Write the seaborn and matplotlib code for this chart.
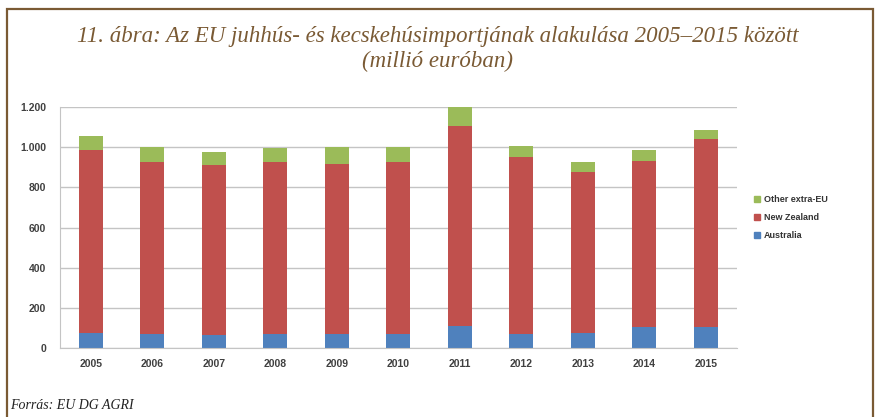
import numpy as np
import pandas as pd
import seaborn as sns
import matplotlib.pyplot as plt
from matplotlib.patches import Patch, Rectangle

# data (million EUR)
years = ['2005', '2006', '2007', '2008', '2009', '2010', '2011', '2012', '2013', '2014', '2015']
australia = [75, 72, 63, 72, 72, 72, 108, 72, 75, 103, 103]
new_zealand = [910, 856, 850, 856, 843, 853, 997, 881, 800, 830, 939]
other = [71, 72, 62, 69, 85, 77, 95, 55, 50, 54, 46]

c_aus = '#4f81bd'
c_nz = '#c0504d'
c_oth = '#9bbb59'
brown = '#7a5a34'

df = pd.DataFrame({'year': years, 'aus': australia, 'nz': new_zealand, 'oth': other})
df['nz_top'] = df['aus'] + df['nz']
df['total'] = df['nz_top'] + df['oth']

sns.set_style('white')
plt.rcParams['font.family'] = ['Liberation Sans', 'DejaVu Sans']

fig = plt.figure(figsize=(8.76, 4.17), dpi=100)
ax = fig.add_axes([0.0685, 0.1655, 0.7725, 0.5775])

# stacked bars: draw cumulative totals, largest first
sns.barplot(data=df, x='year', y='total', color=c_oth, width=0.39, saturation=1, ax=ax)
sns.barplot(data=df, x='year', y='nz_top', color=c_nz, width=0.39, saturation=1, ax=ax)
sns.barplot(data=df, x='year', y='aus', color=c_aus, width=0.39, saturation=1, ax=ax)
for p in ax.patches:
    p.set_edgecolor('none')

ax.set_xlim(-0.5, 10.5)
ax.set_ylim(0, 1200)
ax.set_yticks(range(0, 1201, 200))
ax.set_yticklabels(['0', '200', '400', '600', '800', '1.000', '1.200'])
ax.set_xlabel('')
ax.set_ylabel('')
ax.yaxis.grid(True, color='#c4c4c4', lw=1)
ax.set_axisbelow(True)
for s in ['top', 'right']:
    ax.spines[s].set_visible(False)
ax.spines['left'].set_color('#c4c4c4')
ax.spines['bottom'].set_color('#c4c4c4')
ax.tick_params(axis='both', labelsize=7.5, colors='#404040', length=0, pad=8)
ax.tick_params(axis='y', pad=10)
for lbl in ax.get_xticklabels() + ax.get_yticklabels():
    lbl.set_fontweight('bold')

handles = [Patch(color=c_oth, label='Other extra-EU'),
           Patch(color=c_nz, label='New Zealand'),
           Patch(color=c_aus, label='Australia')]
leg = fig.legend(handles=handles, loc='center left', bbox_to_anchor=(0.852, 0.478),
                 frameon=False, fontsize=6.5, handlelength=0.6, handleheight=0.6,
                 handletextpad=0.4, labelspacing=1.0)
for t in leg.get_texts():
    t.set_fontweight('bold')
    t.set_color('#333333')

fig.text(0.5, 0.913, '11. ábra: Az EU juhhús- és kecskehúsimportjának alakulása 2005–2015 között',
         ha='center', va='center', fontsize=16.5, style='italic', color=brown,
         family=['Liberation Serif', 'DejaVu Serif'])
fig.text(0.5, 0.852, '(millió euróban)', ha='center', va='center', fontsize=16.5,
         style='italic', color=brown, family=['Liberation Serif', 'DejaVu Serif'])
fig.text(0.011, 0.028, 'Forrás: EU DG AGRI', ha='left', va='center', fontsize=10,
         style='italic', color='#222222', family=['Liberation Serif', 'DejaVu Serif'])

fig.patches.append(Rectangle((0.008, -0.1), 0.9886, 1.0785, transform=fig.transFigure,
                             fill=False, edgecolor=brown, lw=1.6))

fig.savefig('out.png', dpi=100)
